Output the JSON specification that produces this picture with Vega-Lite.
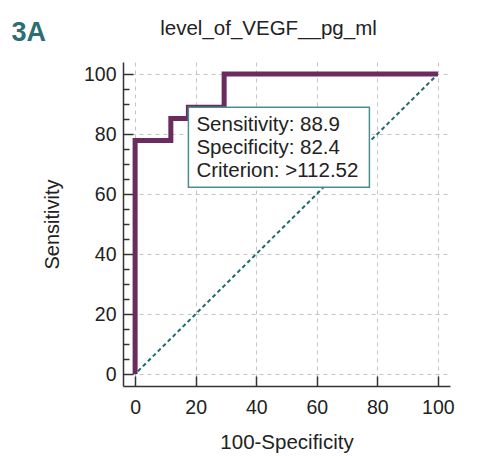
{
  "$schema": "https://vega.github.io/schema/vega-lite/v6.json",
  "width": 327,
  "height": 324,
  "autosize": "none",
  "padding": {"left": 123, "top": 62, "right": 40, "bottom": 70},
  "background": "white",
  "title": {"text": "level_of_VEGF__pg_ml", "anchor": "middle", "frame": "group", "dx": -18, "offset": -21, "fontSize": 20.5, "fontWeight": "normal", "font": "Liberation Sans", "color": "#222222"},
  "config": {"view": {"stroke": null}, "font": "Liberation Sans"},
  "datasets": {
    "roc": [
      {"i": 0, "fpr": 0, "sens": 0},
      {"i": 1, "fpr": 0, "sens": 77.8},
      {"i": 2, "fpr": 11.8, "sens": 77.8},
      {"i": 3, "fpr": 11.8, "sens": 85.2},
      {"i": 4, "fpr": 17.6, "sens": 85.2},
      {"i": 5, "fpr": 17.6, "sens": 88.9},
      {"i": 6, "fpr": 29.4, "sens": 88.9},
      {"i": 7, "fpr": 29.4, "sens": 100},
      {"i": 8, "fpr": 100, "sens": 100}
    ],
    "diag": [{"i": 0, "fpr": 0, "sens": 0}, {"i": 1, "fpr": 100, "sens": 100}],
    "crit": [{"fpr": 17.6, "sens": 88.9, "label": ["Sensitivity: 88.9", "Specificity: 82.4", "Criterion: >112.52"]}]
  },
  "resolve": {"axis": {"y": "independent"}},
  "layer": [
    {
      "data": {"name": "diag"},
      "mark": {"type": "line", "color": "#1d6b70", "strokeWidth": 2, "strokeDash": [4, 3], "strokeDashOffset": -4},
      "encoding": {
        "x": {"field": "fpr", "type": "quantitative", "scale": {"domain": [-4, 104], "nice": false, "zero": false},
          "axis": {
            "values": [0,5,10,15,20,25,30,35,40,45,50,55,60,65,70,75,80,85,90,95,100],
            "labelExpr": "datum.value % 20 === 0 ? datum.label : ''",
            "tickSize": {"condition": {"test": "datum.value % 20 === 0", "value": -10}, "value": -6},
            "gridOpacity": {"condition": {"test": "datum.value % 20 === 0", "value": 1}, "value": 0},
            "grid": true, "gridDash": [4, 4], "gridColor": "#c4c4c4", "gridWidth": 1,
            "domainColor": "#333333", "domainWidth": 1.5, "tickColor": "#333333", "tickWidth": 1.5,
            "labelFontSize": 19.5, "labelColor": "#222222", "labelPadding": 22, "labelFlush": false,
            "title": "100-Specificity", "titleFontSize": 20.5, "titleFontWeight": "normal", "titleColor": "#222222", "titlePadding": 16
          }},
        "y": {"field": "sens", "type": "quantitative", "scale": {"domain": [-4, 104], "nice": false, "zero": false},
          "axis": {
            "orient": "left",
            "values": [0,5,10,15,20,25,30,35,40,45,50,55,60,65,70,75,80,85,90,95,100],
            "labelExpr": "datum.value % 20 === 0 ? datum.label : ''",
            "tickSize": {"condition": {"test": "datum.value % 20 === 0", "value": -10}, "value": -6},
            "gridOpacity": {"condition": {"test": "datum.value % 20 === 0", "value": 1}, "value": 0},
            "grid": true, "gridDash": [4, 4], "gridColor": "#c4c4c4", "gridWidth": 1,
            "domainColor": "#333333", "domainWidth": 1.5, "tickColor": "#333333", "tickWidth": 1.5,
            "labelFontSize": 19.5, "labelColor": "#222222", "labelPadding": 17, "labelFlush": false,
            "title": "Sensitivity", "titleFontSize": 20, "titleFontWeight": "normal", "titleColor": "#222222", "titlePadding": 20.5
          }},
        "order": {"field": "i"}
      }
    },
    {
      "data": {"name": "roc"},
      "mark": {"type": "line", "color": "#6a2b5e", "strokeWidth": 5},
      "encoding": {
        "x": {"field": "fpr", "type": "quantitative"},
        "y": {"field": "sens", "type": "quantitative",
          "axis": {"orient": "right", "domain": false, "ticks": false, "labels": false, "grid": false,
            "title": "3A", "titleAngle": 0, "titleAlign": "left", "titleBaseline": "alphabetic",
            "titleX": -439, "titleY": -21.5, "titleFontSize": 27, "titleFontWeight": "bold", "titleColor": "#2c6e73"}},
        "order": {"field": "i"}
      }
    },
    {
      "data": {"name": "crit"},
      "mark": {"type": "rect", "width": 181, "height": 80, "xOffset": 90.5, "yOffset": 40, "fill": "white", "stroke": "#4a8f8f", "strokeWidth": 1.5},
      "encoding": {
        "x": {"field": "fpr", "type": "quantitative"},
        "y": {"field": "sens", "type": "quantitative", "axis": null}
      }
    },
    {
      "data": {"name": "crit"},
      "mark": {"type": "text", "align": "left", "baseline": "top", "dx": 8, "dy": 7.5, "fontSize": 20.5, "lineHeight": 23.3, "color": "#222222"},
      "encoding": {
        "x": {"field": "fpr", "type": "quantitative"},
        "y": {"field": "sens", "type": "quantitative", "axis": null},
        "text": {"field": "label"}
      }
    }
  ]
}
